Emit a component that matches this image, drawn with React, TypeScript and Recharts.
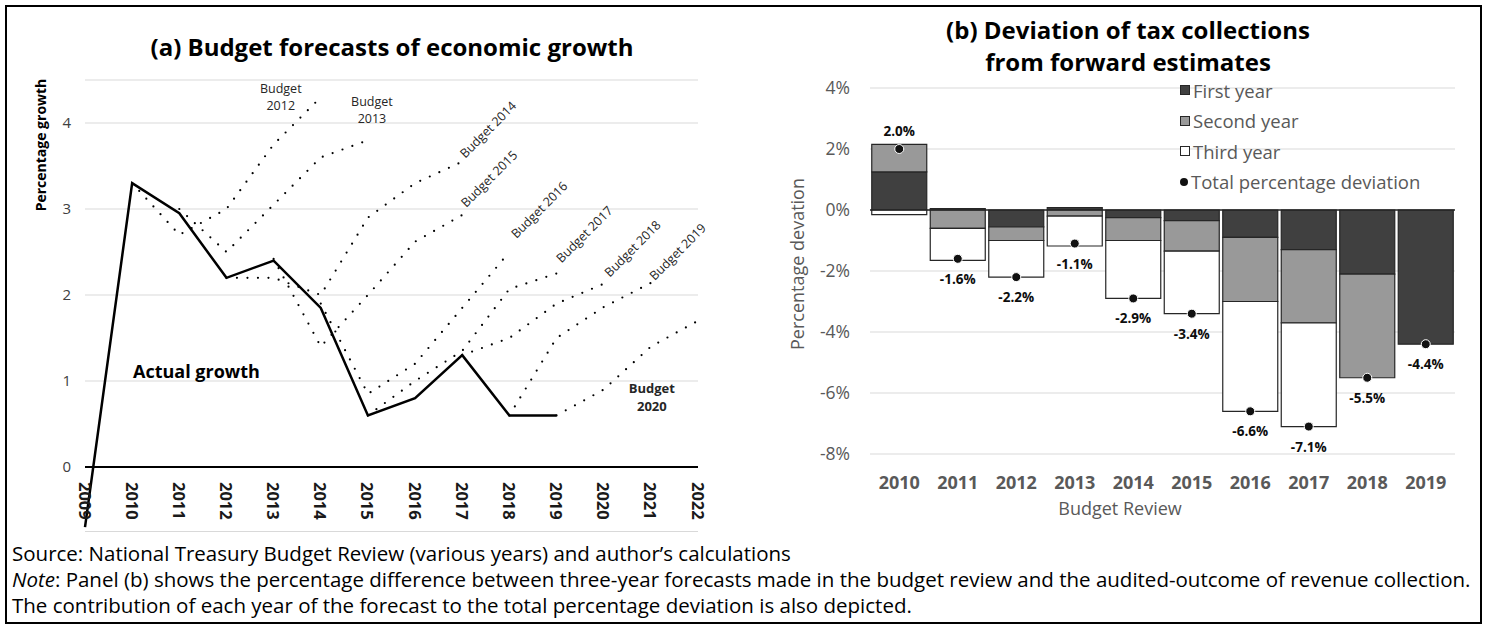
import React from "react";
import {
  LineChart, Line, XAxis, YAxis, CartesianGrid, ReferenceLine, ReferenceDot,
  ComposedChart, Bar, Legend, LabelList,
} from "recharts";

const FONT = '"Open Sans", "Noto Sans", sans-serif';

// ---- panel (a): growth forecasts ----
const years = ["2009", "2010", "2011", "2012", "2013", "2014", "2015", "2016", "2017", "2018", "2019", "2020", "2021", "2022"];
const growthTicks = [0, 1, 2, 3, 4];
const actualGrowth = [-0.7, 3.3, 2.95, 2.2, 2.4, 1.85, 0.6, 0.8, 1.3, 0.6, 0.6, null, null, null];
const budget2012 = [null, 3.3, 2.7, 3.0, 3.75, 4.3, null, null, null, null, null, null, null, null];
const budget2013 = [null, null, 3.0, 2.5, 3.05, 3.6, 3.8, null, null, null, null, null, null, null];
const budget2014 = [null, null, null, 2.2, 2.2, 2.0, 2.9, 3.3, 3.55, null, null, null, null, null];
const budget2015 = [null, null, null, null, 2.42, 1.4, 2.0, 2.62, 2.93, null, null, null, null, null];
const budget2016 = [null, null, null, null, null, 1.9, 0.85, 1.2, 1.85, 2.5, null, null, null, null];
const budget2017 = [null, null, null, null, null, null, 0.6, 1.0, 1.35, 2.07, 2.25, null, null, null];
const budget2018 = [null, null, null, null, null, null, null, null, 1.3, 1.5, 1.9, 2.13, null, null];
const budget2019 = [null, null, null, null, null, null, null, null, null, 0.6, 1.5, 1.86, 2.14, null];
const budget2020 = [null, null, null, null, null, null, null, null, null, null, 0.6, 0.9, 1.4, 1.7];

// ---- panel (b): tax deviation ----
const reviews = ["2010", "2011", "2012", "2013", "2014", "2015", "2016", "2017", "2018", "2019"];
const firstYear = [1.25, 0.05, -0.55, 0.08, -0.25, -0.35, -0.9, -1.3, -2.1, -4.4];
const secondYear = [0.9, -0.6, -0.45, -0.2, -0.75, -1.0, -2.1, -2.4, -3.4, 0];
const thirdYear = [-0.15, -1.05, -1.2, -0.98, -1.9, -2.05, -3.6, -3.4, 0, 0];
const totalDeviation = [2.0, -1.6, -2.2, -1.1, -2.9, -3.4, -6.6, -7.1, -5.5, -4.4];
const deviationTicks = [-8, -6, -4, -2, 0, 2, 4];

const lastIndex = (arr: (number | null)[]) => arr.reduce((m, v, i) => (v == null ? m : i), -1);

type BudgetSeries = { key: string; name: string; values: (number | null)[]; at: number; kind: "stack" | "diag" | "bold"; dx: number; dy: number };

const budgets: BudgetSeries[] = [
  { key: "b2012", name: "Budget 2012", values: budget2012, at: lastIndex(budget2012), kind: "stack", dx: -40, dy: -9 },
  { key: "b2013", name: "Budget 2013", values: budget2013, at: lastIndex(budget2013), kind: "stack", dx: 4, dy: -39 },
  { key: "b2014", name: "Budget 2014", values: budget2014, at: lastIndex(budget2014), kind: "diag", dx: 3, dy: -3 },
  { key: "b2015", name: "Budget 2015", values: budget2015, at: lastIndex(budget2015), kind: "diag", dx: 4, dy: -7 },
  { key: "b2016", name: "Budget 2016", values: budget2016, at: lastIndex(budget2016), kind: "diag", dx: 7, dy: -13 },
  { key: "b2017", name: "Budget 2017", values: budget2017, at: lastIndex(budget2017), kind: "diag", dx: 5, dy: -10 },
  { key: "b2018", name: "Budget 2018", values: budget2018, at: lastIndex(budget2018), kind: "diag", dx: 6, dy: -6 },
  { key: "b2019", name: "Budget 2019", values: budget2019, at: lastIndex(budget2019), kind: "diag", dx: 4, dy: -2 },
  { key: "b2020", name: "Budget 2020", values: budget2020, at: lastIndex(budget2020) - 1, kind: "bold", dx: 1, dy: 42 },
];

const growthData = years.map((year, i) => {
  const row: Record<string, string | number | null> = { year, actual: actualGrowth[i] };
  budgets.forEach((b) => { row[b.key] = b.values[i]; });
  return row;
});

const taxData = reviews.map((year, i) => ({
  year, first: firstYear[i], second: secondYear[i], third: thirdYear[i], total: totalDeviation[i],
}));

const pt = (p: any) => ({ x: p.viewBox?.x ?? p.x, y: p.viewBox?.y ?? p.y });

const budgetLabel = (s: BudgetSeries) => (p: any) => {
  if (p.index !== s.at) return null;
  const { x: px, y: py } = pt(p);
  if (px == null || py == null) return null;
  const x = px + s.dx;
  const y = py + s.dy;
  if (s.kind === "diag") {
    return (
      <text x={x} y={y} transform={`rotate(-45, ${x}, ${y})`} fontSize={12.5} fill="#262626" fontFamily={FONT}>
        {s.name}
      </text>
    );
  }
  const [w1, w2] = s.name.split(" ");
  const bold = s.kind === "bold";
  return (
    <text x={x} y={y + 4.5} textAnchor="middle" fontSize={bold ? 13 : 12.5} fontWeight={bold ? 700 : 400} fill="#262626" fontFamily={FONT}>
      <tspan x={x} dy={0}>{w1}</tspan>
      <tspan x={x} dy={17.5}>{w2}</tspan>
    </text>
  );
};

const yearLabel = (year: string) => (p: any) => {
  const vb = p.viewBox ?? {};
  const x = (vb.x ?? 0) + (vb.width ?? 0) / 2;
  const y = (vb.y ?? 0) + (vb.height ?? 0) / 2 + 15;
  return (
    <text x={x} y={y} transform={`rotate(90, ${x}, ${y})`} dominantBaseline="central" fontSize={16.5} fontWeight={700} fill="#1a1a1a" fontFamily={FONT}>
      {year}
    </text>
  );
};

const totalLabel = (p: any) => {
  const { x, y } = pt(p);
  const v = Number(p.value);
  if (x == null || y == null || Number.isNaN(v)) return null;
  return (
    <text x={x} y={v >= 0 ? y - 18 : y + 20} textAnchor="middle" dominantBaseline="central" fontSize={13.5} fontWeight={700} fill="#0d0d0d" fontFamily={FONT}>
      {v.toFixed(1)}%
    </text>
  );
};

const legendItems = [
  { name: "First year", shape: "square", color: "#404040" },
  { name: "Second year", shape: "square", color: "#999999" },
  { name: "Third year", shape: "square", color: "#ffffff" },
  { name: "Total percentage deviation", shape: "circle", color: "#111111" },
];

const TaxLegend = () => (
  <div style={{ fontFamily: FONT, fontSize: 18.5, color: "#595959" }}>
    {legendItems.map((it) => (
      <div key={it.name} style={{ display: "flex", alignItems: "center", height: 30.5, whiteSpace: "nowrap" }}>
        <span
          style={{
            display: "inline-block", width: 8, height: 8, marginRight: 3, background: it.color,
            border: it.shape === "square" ? "1px solid #262626" : "none",
            borderRadius: it.shape === "circle" ? "50%" : 0,
          }}
        />
        {it.name}
      </div>
    ))}
  </div>
);

const abs = (s: React.CSSProperties): React.CSSProperties => ({ position: "absolute", fontFamily: FONT, ...s });

export default function App() {
  return (
    <div style={{ position: "absolute", left: 0, top: 0, width: 1489, height: 628, background: "#fff", overflow: "hidden" }}>
      <div style={{ position: "absolute", left: 5, top: 5, width: 1477, height: 619, border: "2px solid #000", boxSizing: "border-box" }} />

      {/* panel (a) */}
      <div style={abs({ left: 0, top: 0 })}>
        <LineChart width={745} height={540} data={growthData} margin={{ top: 80, right: 47, bottom: 8.5, left: 35 }}>
          <CartesianGrid vertical={false} stroke="#d9d9d9" />
          <XAxis dataKey="year" hide />
          <YAxis
            domain={[-0.75, 4.5]} ticks={growthTicks} width={50} axisLine={false} tickLine={false} tickMargin={8}
            tick={{ fill: "#404040", fontSize: 15, fontFamily: FONT }}
          />
          <ReferenceLine y={0} stroke="#000" strokeWidth={2} />
          {years.map((y) => (
            <ReferenceDot key={y} x={y} y={0} r={0} fill="none" stroke="none" label={yearLabel(y)} />
          ))}
          {budgets.map((b) => (
            <Line
              key={b.key} dataKey={b.key} name={b.name} stroke="#000" strokeWidth={2.2} strokeDasharray="0 10.5"
              strokeLinecap="round" dot={false} isAnimationActive={false} label={budgetLabel(b)}
            />
          ))}
          <Line dataKey="actual" name="Actual growth" stroke="#000" strokeWidth={2.5} dot={false} isAnimationActive={false} />
        </LineChart>
      </div>
      <div style={abs({ left: 92, top: 31, width: 600, textAlign: "center", fontSize: 24, fontWeight: 700, lineHeight: "32px", color: "#000", whiteSpace: "nowrap" })}>
        (a) Budget forecasts of economic growth
      </div>
      <div style={abs({ left: 40, top: 145, transform: "translate(-50%, -50%) rotate(-90deg)", fontSize: 14, fontWeight: 700, whiteSpace: "nowrap", color: "#000" })}>
        Percentage growth
      </div>
      <div style={abs({ left: 133, top: 359, fontSize: 18, fontWeight: 700, lineHeight: "24px", color: "#000", whiteSpace: "nowrap" })}>
        Actual growth
      </div>

      {/* panel (b) */}
      <div style={abs({ left: 745, top: 0 })}>
        <ComposedChart width={744} height={540} data={taxData} stackOffset="sign" barCategoryGap="3%" margin={{ top: 88, right: 34, bottom: 41, left: 45 }}>
          <CartesianGrid vertical={false} stroke="#d9d9d9" />
          <XAxis
            dataKey="year" axisLine={false} tickLine={false} tickMargin={16} height={45}
            tick={{ fill: "#595959", fontSize: 18, fontWeight: 700, fontFamily: FONT }}
          />
          <YAxis
            domain={[-8, 4]} ticks={deviationTicks} width={80} axisLine={false} tickLine={false} tickMargin={14}
            tickFormatter={(v: number) => `${v}%`} tick={{ fill: "#595959", fontSize: 17.5, fontFamily: FONT }}
          />
          <Legend layout="horizontal" verticalAlign="middle" align="center" content={<TaxLegend />}
            wrapperStyle={{ left: 435, top: 75, width: "auto", height: "auto" }} />
          <Bar dataKey="first" name="First year" stackId="a" fill="#404040" stroke="#262626" strokeWidth={1.2} isAnimationActive={false} />
          <Bar dataKey="second" name="Second year" stackId="a" fill="#999999" stroke="#262626" strokeWidth={1.2} isAnimationActive={false} />
          <Bar dataKey="third" name="Third year" stackId="a" fill="#ffffff" stroke="#262626" strokeWidth={1.2} isAnimationActive={false} />
          <ReferenceLine y={0} stroke="#262626" strokeWidth={1.5} />
          <Line dataKey="total" name="Total percentage deviation" stroke="none" isAnimationActive={false}
            dot={{ r: 4.5, fill: "#111", stroke: "#fff", strokeWidth: 1 }}>
            <LabelList dataKey="total" content={totalLabel} />
          </Line>
        </ComposedChart>
      </div>
      <div style={abs({ left: 828, top: 14, width: 600, textAlign: "center", fontSize: 24, fontWeight: 700, lineHeight: "32px", color: "#000", whiteSpace: "nowrap" })}>
        (b) Deviation of tax collections<br />from forward estimates
      </div>
      <div style={abs({ left: 797, top: 264, transform: "translate(-50%, -50%) rotate(-90deg)", fontSize: 18, whiteSpace: "nowrap", color: "#595959" })}>
        Percentage devation
      </div>
      <div style={abs({ left: 1120, top: 508, transform: "translate(-50%, -50%)", fontSize: 18, whiteSpace: "nowrap", color: "#595959" })}>
        Budget Review
      </div>

      {/* notes */}
      <div style={abs({ left: 12, top: 540, fontSize: 20.5, lineHeight: "26px", color: "#000", whiteSpace: "nowrap" })}>
        <div>Source: National Treasury Budget Review (various years) and author’s calculations</div>
        <div><i>Note</i>: Panel (b) shows the percentage difference between three-year forecasts made in the budget review and the audited-outcome of revenue collection.</div>
        <div>The contribution of each year of the forecast to the total percentage deviation is also depicted.</div>
      </div>
    </div>
  );
}
